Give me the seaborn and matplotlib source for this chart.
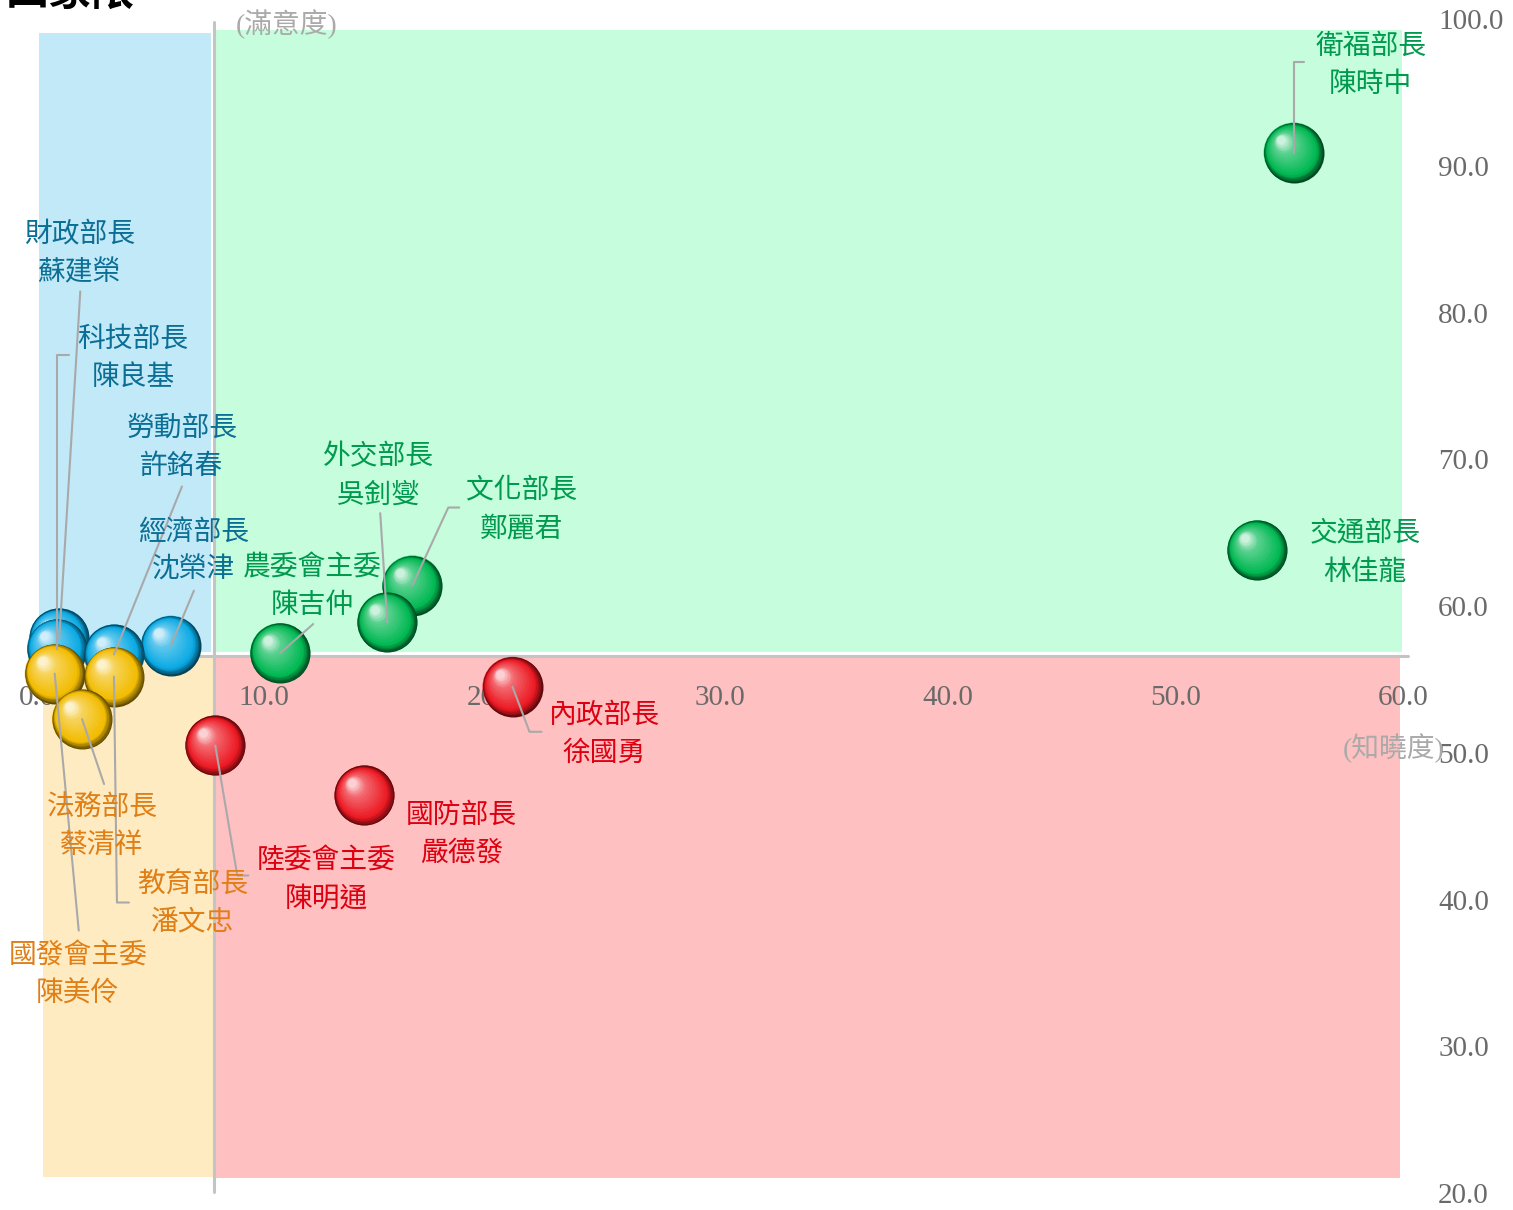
import numpy as np
import pandas as pd
import matplotlib
matplotlib.use("Agg")
import matplotlib.pyplot as plt
import matplotlib.transforms as mtransforms
from matplotlib.colors import to_rgb
from matplotlib.patches import Rectangle
import seaborn as sns

# --- data ---
titles = ['衛福部長', '交通部長', '文化部長', '外交部長', '農委會主委', '經濟部長', '勞動部長',
          '科技部長', '財政部長', '法務部長', '教育部長', '國發會主委', '陸委會主委', '國防部長', '內政部長']
names = ['陳時中', '林佳龍', '鄭麗君', '吳釗燮', '陳吉仲', '沈榮津', '許銘春',
         '陳良基', '蘇建榮', '蔡清祥', '潘文忠', '陳美伶', '陳明通', '嚴德發', '徐國勇']
awareness = [55.2, 53.6, 16.5, 15.4, 10.7, 5.9, 3.4, 0.9, 1.0, 2.0, 3.4, 0.8, 7.85, 14.4, 20.9]
satisfaction = [91.1, 64.0, 61.6, 59.1, 57.0, 57.5, 56.9, 57.3, 58.0, 52.5, 55.4, 55.6, 50.7, 47.3, 54.7]
x_mid = 7.8
y_mid = 56.8
x_ticks = [0, 10, 20, 30, 40, 50, 60]
y_ticks = [20, 30, 40, 50, 60, 70, 80, 90, 100]

df = pd.DataFrame({'title': titles, 'name': names, 'x': awareness, 'y': satisfaction})
df['quad'] = np.where(df['y'] >= y_mid,
                      np.where(df['x'] >= x_mid, 'hi_hi', 'lo_hi'),
                      np.where(df['x'] >= x_mid, 'hi_lo', 'lo_lo'))

ball_col = {'hi_hi': '#00b852', 'lo_hi': '#0aaae4', 'hi_lo': '#ec1822', 'lo_lo': '#f2bc00'}
text_col = {'hi_hi': '#009a4e', 'lo_hi': '#0b6e94', 'hi_lo': '#dd0011', 'lo_lo': '#e07f16'}
bg_col = {'hi_hi': '#c5fddd', 'lo_hi': '#c1e9f8', 'hi_lo': '#fec0c0', 'lo_lo': '#feebc1'}

# label layout in pixels relative to the ball: text centre, leader start, optional elbow
layout = {
    '陳時中': ((77, 88), (10, 91), (0, 91)),
    '林佳龍': ((108, -2), None, None),
    '鄭麗君': ((109, 76), (47, 78), (36, 78)),
    '吳釗燮': ((-9, 147), (-7, 109), None),
    '陳吉仲': ((32, 67), (33, 29), None),
    '沈榮津': ((23, 95), (23, 55), None),
    '許銘春': ((68, 208), (68, 168), None),
    '陳良基': ((76, 291), (12, 294), (0, 294)),
    '蘇建榮': ((20, 385), (21, 347), None),
    '蔡清祥': ((20, -107), (22, -65), None),
    '潘文忠': ((79, -227), (15, -226), (3, -226)),
    '陳美伶': ((23, -301), (24, -257), None),
    '陳明通': ((111, -134), (33, -130), (22, -130)),
    '嚴德發': ((97, -38), None, None),
    '徐國勇': ((92, -47), (29, -45), (17, -45)),
}

sns.set_theme(style='white')
plt.rcParams['font.family'] = ['Noto Sans CJK TC', 'DejaVu Sans']

fig = plt.figure(figsize=(15.13, 12.10), dpi=100)
ax = fig.add_axes([0, 0, 1, 1])
ax.set_xlim(-1.603, 64.83)
ax.set_ylim(19.046, 101.5)
ax.axis('off')

# quadrant backgrounds
boxes = {
    'lo_hi': (0.11, 57.07, 7.66, 99.25),
    'hi_hi': (7.88, 57.07, 59.96, 99.45),
    'lo_lo': (0.29, 21.3, 7.75, 56.66),
    'hi_lo': (7.75, 21.23, 59.87, 56.66),
}
for q, (x0, y0, x1, y1) in boxes.items():
    ax.add_patch(Rectangle((x0, y0), x1 - x0, y1 - y0, color=bg_col[q], lw=0, zorder=0))

ax.plot([x_mid, x_mid], [20.3, 100], color='#c4c4c4', lw=2.2, zorder=1)
ax.plot([0, 60.2], [y_mid, y_mid], color='#c4c4c4', lw=2.2, zorder=1)

# tick labels
serif = ['Liberation Serif', 'DejaVu Serif']
for v in x_ticks:
    ax.text(v, 53.93, f'{v:.1f}', ha='center', va='center', fontsize=21,
            color='#6a6a6a', family=serif, zorder=2)
for v in y_ticks:
    ax.text(61.54, v, f'{v:.1f}', ha='left', va='center', fontsize=21,
            color='#6a6a6a', family=serif, zorder=2)

ax.text(8.76, 99.86, '(滿意度)', ha='left', va='center', fontsize=20, color='#aaaaaa',
        family=['Liberation Serif', 'Noto Sans CJK TC'], fontweight='light', zorder=2)
ax.text(57.37, 50.53, '(知曉度)', ha='left', va='center', fontsize=20, color='#aaaaaa',
        family=['Liberation Serif', 'Noto Sans CJK TC'], fontweight='light', zorder=12)

# base points
diam = 60
sns.scatterplot(data=df, x='x', y='y', hue='quad', palette=ball_col, s=(diam * 0.72) ** 2,
                linewidth=0, legend=False, ax=ax, zorder=3)


def shade(x, y, color, z):
    # stacked, shrinking discs shifted to the upper left give a 3D ball look
    base = np.array(to_rgb(color))
    dark = base * 0.4
    light = base + (1 - base) * 0.35
    high = base + (1 - base) * 0.8
    n = 32
    for k in range(n):
        t = k / (n - 1)
        d = diam * (1 - 0.86 * t)
        off = 0.21 * diam * t
        if t < 0.18:
            c = dark + (base - dark) * (t / 0.18)
        elif t < 0.75:
            c = base + (light - base) * ((t - 0.18) / 0.57)
        else:
            c = light + (high - light) * ((t - 0.75) / 0.25)
        tr = mtransforms.offset_copy(ax.transData, fig=fig, x=-off, y=off, units='dots')
        ax.scatter([x], [y], s=(d * 0.72) ** 2, color=np.clip(c, 0, 1), lw=0,
                   transform=tr, zorder=z)


order = df.sort_values('y', ascending=False).index
for i, idx in enumerate(order):
    r = df.loc[idx]
    shade(r['x'], r['y'], ball_col[r['quad']], 3 + 0.01 * (i + 1))

# labels and leader lines
ident = mtransforms.IdentityTransform()
for _, r in df.iterrows():
    (tx, ty), start, elbow = layout[r['name']]
    ax.annotate(r['title'] + '\n' + r['name'], xy=(r['x'], r['y']), xytext=(tx, ty),
                textcoords='offset pixels', ha='center', va='center', fontsize=20,
                fontweight='medium', linespacing=1.35, color=text_col[r['quad']], zorder=11)
    if start is not None:
        px, py = ax.transData.transform((r['x'], r['y']))
        pts = [start] + ([elbow] if elbow else []) + [(0, 0)]
        xs = [px + p[0] for p in pts]
        ys = [py + p[1] for p in pts]
        ax.plot(xs, ys, color='#a9a9a9', lw=1.5, transform=ident, zorder=10)

fig.text(135 / 1513, 1 - 14 / 1210, '四象限', ha='right', va='bottom', fontsize=31,
         fontweight='bold', color='black')

fig.savefig('out.png', dpi=100)
